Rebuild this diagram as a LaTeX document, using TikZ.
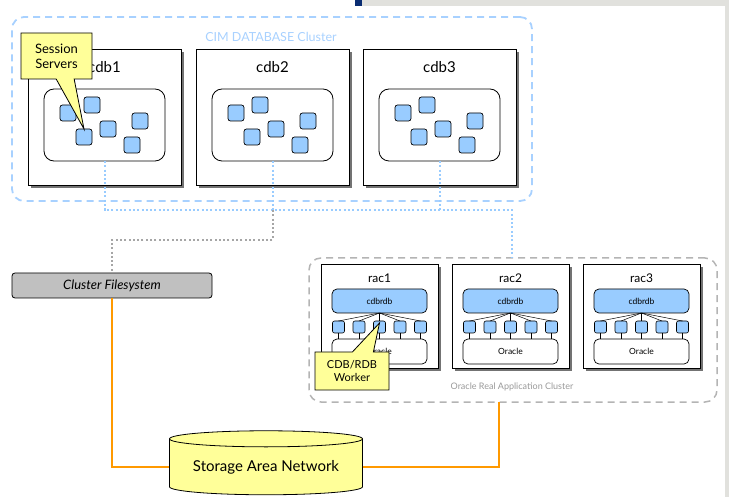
\documentclass[tikz,border=0pt]{standalone}
\usepackage{fontspec}
\setmainfont{Lato}
\usetikzlibrary{shapes.geometric,shapes.callouts,shadows,positioning}
\definecolor{cimblue}{HTML}{99CCFF}
\definecolor{cimdash}{HTML}{A8D1FF}
\definecolor{noteyellow}{HTML}{FFFF99}
\definecolor{sanorange}{HTML}{FF9900}
\definecolor{fsgrey}{HTML}{C0C0C0}
\definecolor{racgrey}{HTML}{B4B4B4}
\definecolor{slidegrey}{HTML}{E1E1DD}
\definecolor{slidenavy}{HTML}{0A2D72}

\begin{document}
\begin{tikzpicture}[x=1pt, y=-1pt,
    every node/.style={inner sep=0, outer sep=0},
    host/.style={draw, line width=0.9pt, fill=white, anchor=north west,
      drop shadow={shadow xshift=3pt, shadow yshift=-3pt, fill=black!55, opacity=1}},
    cdbhost/.style={host, minimum width=153pt, minimum height=136pt},
    rachost/.style={host, minimum width=117pt, minimum height=104pt},
    pool/.style={draw, line width=0.8pt, fill=white, rounded corners=10pt, minimum width=121pt, minimum height=72pt},
    session/.style={draw, line width=0.7pt, fill=cimblue, rounded corners=2.5pt, minimum size=16pt},
    worker/.style={draw, line width=0.6pt, fill=cimblue, rounded corners=2pt, minimum size=12pt},
    proc/.style={draw, line width=0.7pt, rounded corners=5pt, minimum width=95pt, font=\fontsize{8.5}{10}\selectfont},
    note/.style={rectangle callout, draw, line width=0.8pt, fill=noteyellow, align=center},
    cluster/.style={rounded corners=12pt, dash pattern=on 7pt off 5pt},
    cimbus/.style={cimblue, line width=2pt, dash pattern=on 2pt off 2.3pt},
    fsbus/.style={black!35, line width=2pt, dash pattern=on 2pt off 2.3pt},
    sanlink/.style={sanorange, line width=2.2pt},
  ]
  % slide frame
  \useasboundingbox (0,0) rectangle (729,497);
  \fill[slidegrey] (362,0) rectangle (729,6);
  \fill[slidegrey] (725,6) rectangle (729,497);
  \fill[slidenavy] (355,0) rectangle (362,6);

  % CIM database cluster
  \node[draw=cimdash, line width=1.8pt, cluster, minimum width=520pt, minimum height=184pt] (cim) at (272,109) {};
  \node[text=cimdash, font=\fontsize{12.5}{14}\selectfont] (cim-label) at (271,37) {CIM DATABASE Cluster};
  \foreach \h/\x in {cdb1/28, cdb2/196, cdb3/363} {
    \node[cdbhost] (\h) at (\x,49) {};
    \node[font=\fontsize{15}{18}\selectfont] (\h-title) at ([yshift=-18pt]\h.north) {\h};
    \node[pool] (\h-pool) at ([yshift=-8pt]\h.center) {};
    \foreach \sx/\sy [count=\i] in {40/64, 64/56, 56/88, 80/80, 112/72, 104/96}
      \node[session] (\h-s\i) at ([shift={(\sx,\sy)}]\h.north west) {};
  }

  % Oracle RAC
  \node[draw=racgrey, line width=1.5pt, cluster, minimum width=408pt, minimum height=144pt] (rac) at (513,330) {};
  \node[text=black!40, font=\fontsize{9}{11}\selectfont] (rac-label) at (512,387) {Oracle Real Application Cluster};
  \foreach \h/\x in {rac1/321, rac2/452, rac3/583} {
    \node[rachost] (\h) at (\x,264) {};
    \node[font=\fontsize{12}{14}\selectfont] (\h-title) at ([yshift=-14pt]\h.north) {\h};
    \node[proc, fill=cimblue, minimum height=24pt] (\h-cdbrdb) at ([yshift=-37pt]\h.north) {cdbrdb};
    \node[proc, fill=white, minimum height=25pt] (\h-oracle) at ([yshift=-87.5pt]\h.north) {Oracle};
    \foreach \wx [count=\i] in {-41,-20.5,0,20.5,41} {
      \node[worker] (\h-w\i) at ([shift={(\wx,63)}]\h.north) {};
      \draw[line width=0.5pt] (\h-cdbrdb.south) -- (\h-w\i.north);
      \draw[line width=0.5pt] (\h-w\i.south) -- (\h-w\i.south |- \h-oracle.north);
    }
  }

  % storage
  \node[draw, line width=0.8pt, fill=fsgrey, rounded corners=3pt, minimum width=200pt, minimum height=25pt, font=\itshape\fontsize{13}{15}\selectfont] (cfs) at (112,285.5) {Cluster Filesystem};
  \node[cylinder, shape border rotate=90, aspect=0.11, draw, line width=0.8pt, cylinder uses custom fill, cylinder body fill=noteyellow, cylinder end fill=noteyellow, minimum width=193pt, minimum height=64pt, font=\fontsize{15}{18}\selectfont] (san) at (266,467) {Storage Area Network};

  % links
  \coordinate (busend) at (512,210);
  \coordinate (fsjog) at (112,240);
  \coordinate (racfoot) at (499,402);
  \draw[cimbus] (cdb1-pool.south) |- (busend) -- (busend |- rac.north);
  \draw[cimbus] (cdb2-pool.south) -- (cdb2-pool.south |- busend);
  \draw[cimbus] (cdb3-pool.south) -- (cdb3-pool.south |- busend);
  \draw[fsbus] (cdb2-pool.south |- busend) |- (fsjog) -- (cfs.north);
  \draw[sanlink] (cfs.south) |- (san);
  \draw[sanlink] (san) -| (racfoot);

  % callouts
  \node[note, minimum width=71pt, minimum height=46pt, callout absolute pointer={(cdb1-s3.north)}, callout pointer width=18pt, font=\fontsize{13}{15}\selectfont] (sessions) at (56.5,56) {Session\\Servers};
  \node[note, minimum width=74pt, minimum height=38pt, callout absolute pointer={([yshift=-2pt]rac1-w3.north)}, callout pointer width=21pt, font=\fontsize{11}{13}\selectfont] (worker-note) at (352,371) {CDB/RDB\\Worker};
\end{tikzpicture}
\end{document}
